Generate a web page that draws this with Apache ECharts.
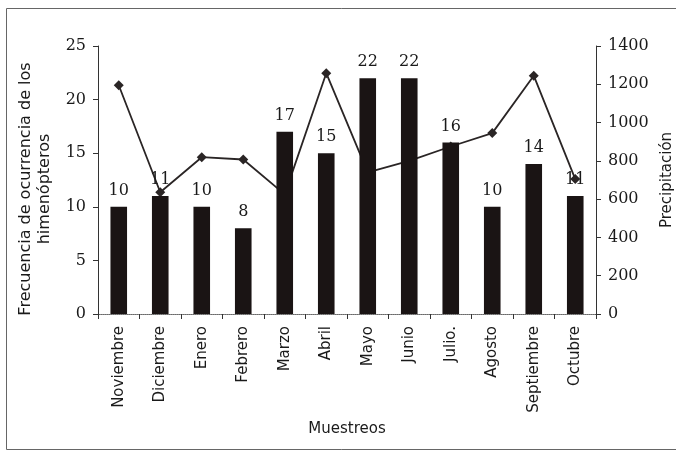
<!DOCTYPE html>
<html>
<head>
<meta charset="utf-8">
<script src="https://cdn.jsdelivr.net/npm/echarts@6/dist/echarts.min.js"></script>
<style>
html,body{margin:0;padding:0;background:#fff;}
#c{width:676px;height:455px;}
</style>
</head>
<body>
<div id="c"></div>
<script>
const months = ['Noviembre','Diciembre','Enero','Febrero','Marzo','Abril','Mayo','Junio','Julio.','Agosto','Septiembre','Octubre'];
const frequency = [10, 11, 10, 8, 17, 15, 22, 22, 16, 10, 14, 11];
const precipitation = [1195, 636, 819, 807, 625, 1258, 740, 800, 875, 945, 1245, 705];
const leftTicks = [0, 5, 10, 15, 20, 25];
const rightTicks = [0, 200, 400, 600, 800, 1000, 1200, 1400];

const serif = 'DejaVu Serif';
const sans = 'DejaVu Sans';
const ink = '#1a1414';

const chart = echarts.init(document.getElementById('c'), null, {renderer: 'canvas'});
chart.setOption({
  backgroundColor: '#ffffff',
  animation: false,
  graphic: [{
    type: 'rect',
    shape: {x: 6.5, y: 8.5, width: 700, height: 441},
    style: {fill: 'none', stroke: '#666', lineWidth: 1},
    silent: true, z: 0
  }],
  grid: {left: 98, right: 80, top: 46, bottom: 141, outerBoundsMode: 'none', containLabel: false},
  xAxis: [{
    type: 'category',
    data: months,
    name: 'Muestreos',
    nameLocation: 'middle',
    nameGap: 108,
    nameTextStyle: {fontFamily: sans, fontSize: 15, color: '#1a1a1a'},
    axisLine: {lineStyle: {color: '#333', width: 1}},
    axisTick: {show: true, length: 5, inside: false, lineStyle: {color: '#333'}},
    axisLabel: {rotate: 90, fontFamily: sans, fontSize: 15, color: '#1a1a1a', margin: 12, interval: 0}
  }, {
    type: 'category',
    data: months,
    position: 'top',
    axisLine: {lineStyle: {color: '#888', width: 1, type: 'dotted'}},
    axisTick: {show: false},
    axisLabel: {show: false}
  }],
  yAxis: [{
    type: 'value',
    min: 0, max: 25, interval: 5,
    name: 'Frecuencia de ocurrencia de los\nhimenópteros',
    nameLocation: 'middle',
    nameGap: 41,
    nameRotate: 90,
    nameTextStyle: {fontFamily: sans, fontSize: 16, color: '#1a1a1a', lineHeight: 19, padding: [0, 18, 0, 0]},
    axisLine: {show: true, lineStyle: {color: '#333', width: 1}},
    axisTick: {show: true, length: 5, lineStyle: {color: '#333'}},
    splitLine: {show: false},
    axisLabel: {fontFamily: serif, fontSize: 16, color: '#1a1a1a', margin: 12,
      formatter: v => leftTicks.includes(v) ? String(v) : ''}
  }, {
    type: 'value',
    min: 0, max: 1400, interval: 200,
    name: 'Precipitación',
    nameLocation: 'middle',
    nameGap: 62,
    nameRotate: 90,
    nameTextStyle: {fontFamily: sans, fontSize: 15, color: '#1a1a1a'},
    axisLine: {show: true, lineStyle: {color: '#333', width: 1}},
    axisTick: {show: true, length: 5, lineStyle: {color: '#333'}},
    splitLine: {show: false},
    axisLabel: {fontFamily: serif, fontSize: 16, color: '#1a1a1a', margin: 12,
      formatter: v => rightTicks.includes(v) ? String(v) : ''}
  }],
  series: [{
    type: 'line',
    yAxisIndex: 1,
    data: precipitation,
    symbol: 'diamond',
    symbolSize: 10,
    lineStyle: {color: '#2a2525', width: 1.8},
    itemStyle: {color: '#2a2525'},
    z: 2
  }, {
    type: 'bar',
    yAxisIndex: 0,
    data: frequency,
    barWidth: '40%',
    itemStyle: {color: ink},
    label: {show: true, position: 'top', distance: 8, fontFamily: serif, fontSize: 16, color: '#1a1a1a'},
    z: 3
  }]
});
</script>
</body>
</html>
